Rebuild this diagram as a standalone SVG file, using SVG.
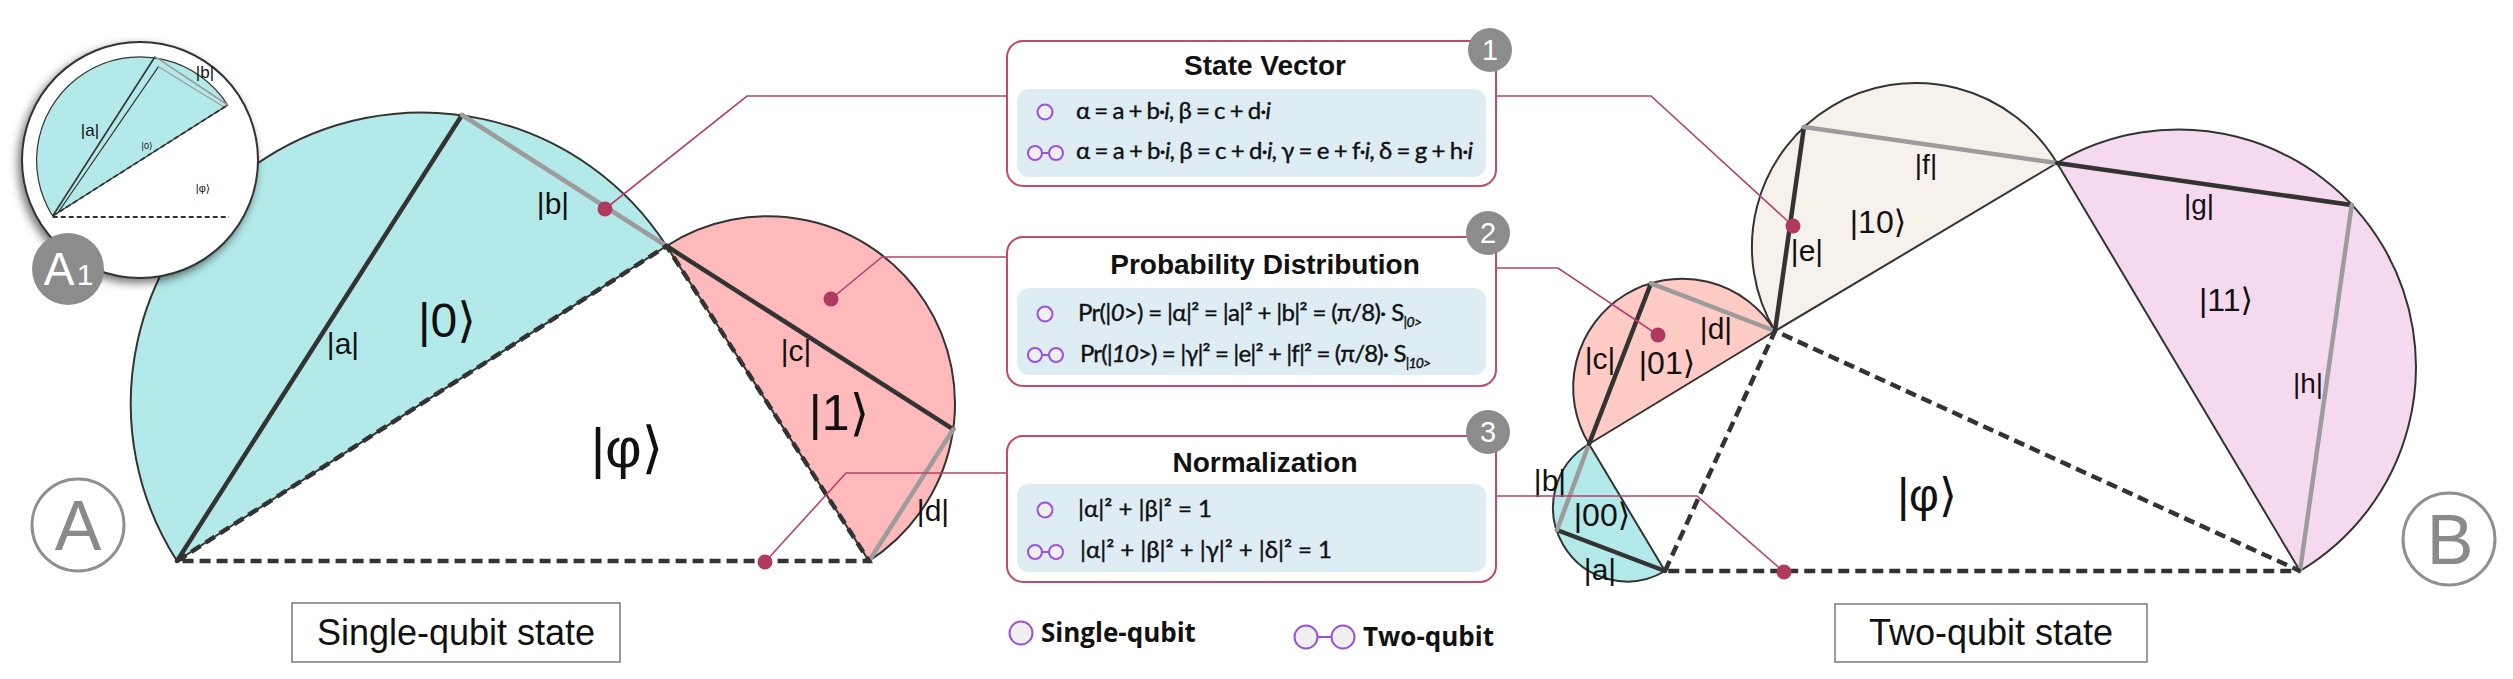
<svg xmlns="http://www.w3.org/2000/svg" width="2513" height="679" viewBox="0 0 2513 679">
<defs>
<style>
.lbl{font-family:"Liberation Sans",Arial,"DejaVu Sans",sans-serif;fill:#111;text-anchor:middle}
.chordK{stroke:#333;stroke-width:4.5;fill:none;stroke-linecap:round}
.chordG{stroke:#9c9c9c;stroke-width:4.5;fill:none;stroke-linecap:round}
.semi{stroke:#333;stroke-width:2;stroke-linejoin:round}
.dash{stroke:#333;stroke-width:4.5;fill:none;stroke-dasharray:11 6}
.conn{stroke:#b8416b;stroke-width:1.6;fill:none}
.dot{fill:#b03a5e}
.box{fill:#fff;stroke:#c4496e;stroke-width:2}
.inner{fill:#deedf4}
.title{font-family:"Liberation Sans",Arial,sans-serif;font-weight:bold;font-size:28px;fill:#111;text-anchor:middle}
.f{font-family:Lato,"Open Sans","Noto Sans",sans-serif;font-size:24px;fill:#111;stroke:#111;stroke-width:0.4}
.q{fill:#efefef;stroke:#9b51e0;stroke-width:2}
.badge{fill:#8c8c8c}
.bnum{font-family:"Liberation Sans",Arial,sans-serif;font-size:29px;fill:#fff;text-anchor:middle}
.cap{font-family:"Liberation Sans",Arial,sans-serif;font-size:36px;fill:#111;text-anchor:middle}
.capbox{fill:#fff;stroke:#7a7a7a;stroke-width:1.5}
.leg{font-family:"Open Sans","Noto Sans",sans-serif;font-weight:bold;font-size:26px;fill:#111}
.panel{fill:none;stroke:#8f8f8f;stroke-width:3}
.panelT{font-family:"Liberation Sans",Arial,sans-serif;font-size:70px;fill:#8a8a8a;text-anchor:middle}
</style>
<filter id="sh" x="-20%" y="-20%" width="140%" height="140%">
<feDropShadow dx="-3" dy="4" stdDeviation="5" flood-color="#000" flood-opacity="0.55"/>
</filter>
</defs>
<rect width="2513" height="679" fill="#fff"/>

<!-- Single-qubit geometry -->
<g id="single-qubit">
<path class="semi" fill="#b3e9e9" d="M177 561 A290.8 290.8 0 0 1 666.5 246 Z"/>
<path class="semi" fill="#feb9ba" d="M666.5 246 A187.2 187.2 0 0 1 869 561 Z"/>
<line class="chordK" x1="177" y1="561" x2="462" y2="115"/>
<line class="chordG" x1="462" y1="115" x2="666.5" y2="246"/>
<line class="chordK" x1="666.5" y1="246" x2="953.3" y2="429.3"/>
<line class="chordG" x1="953.3" y1="429.3" x2="869" y2="561"/>
<path class="dash" d="M177 561 L666.5 246 L869 561 Z"/>
<text class="lbl" x="343" y="353.5" font-size="30">|a|</text>
<text class="lbl" x="553" y="213.5" font-size="30">|b|</text>
<text class="lbl" x="447" y="337" font-size="48">|0⟩</text>
<text class="lbl" x="796" y="360.5" font-size="30">|c|</text>
<text class="lbl" x="839" y="429.5" font-size="50">|1⟩</text>
<text class="lbl" x="933" y="520.5" font-size="30">|d|</text>
<text class="lbl" x="627" y="467" font-size="56">|φ⟩</text>
</g>

<!-- Two-qubit geometry -->
<g id="two-qubit">
<path class="semi" fill="#b3e9e9" d="M1665 571 A74 74 0 0 1 1589 444 Z"/>
<path class="semi" fill="#ffcbc4" d="M1589 444 A108.8 108.8 0 0 1 1775 331 Z"/>
<path class="semi" fill="#f6f1eb" d="M1775 331 A164.1 164.1 0 0 1 2057 163 Z"/>
<path class="semi" fill="#f5daef" d="M2057 163 A237.4 237.4 0 0 1 2300 571 Z"/>
<line class="chordK" x1="1557" y1="530" x2="1665" y2="571"/>
<line class="chordG" x1="1557" y1="530" x2="1589" y2="444"/>
<line class="chordK" x1="1589" y1="444" x2="1651" y2="283.3"/>
<line class="chordG" x1="1651" y1="283.3" x2="1775" y2="331"/>
<line class="chordK" x1="1775" y1="331" x2="1804" y2="127"/>
<line class="chordG" x1="1804" y1="127" x2="2057" y2="163"/>
<line class="chordK" x1="2057" y1="163" x2="2351.7" y2="205"/>
<line class="chordG" x1="2351.7" y1="205" x2="2300" y2="571"/>
<path class="dash" d="M1665 571 L1775 331 L2300 571 Z"/>
<text class="lbl" x="1602" y="526" font-size="32">|00⟩</text>
<text class="lbl" x="1600" y="580" font-size="30">|a|</text>
<text class="lbl" x="1550" y="491" font-size="30">|b|</text>
<text class="lbl" x="1600" y="368.5" font-size="30">|c|</text>
<text class="lbl" x="1667" y="374" font-size="32">|01⟩</text>
<text class="lbl" x="1716" y="339" font-size="30">|d|</text>
<text class="lbl" x="1807" y="261" font-size="30">|e|</text>
<text class="lbl" x="1878" y="233" font-size="32">|10⟩</text>
<text class="lbl" x="1926" y="174" font-size="28">|f|</text>
<text class="lbl" x="2199" y="213.5" font-size="28">|g|</text>
<text class="lbl" x="2226" y="311" font-size="32">|11⟩</text>
<text class="lbl" x="2308" y="393" font-size="28">|h|</text>
<text class="lbl" x="1927" y="511" font-size="46">|φ⟩</text>
</g>

<!-- Inset A1 -->
<g id="inset-A1">
<circle cx="140" cy="160" r="118" fill="#fff" stroke="#333" stroke-width="2" filter="url(#sh)"/>
<path fill="#b3e9e9" stroke="#333" stroke-width="1.2" d="M52.7 216 A103.6 103.6 0 0 1 227.7 105 Z"/>
<line x1="52.7" y1="216" x2="155" y2="56.7" stroke="#333" stroke-width="1.6"/>
<line x1="155" y1="56.7" x2="227.7" y2="105" stroke="#9c9c9c" stroke-width="1.6"/>
<line x1="57" y1="214" x2="158.5" y2="66.7" stroke="#333" stroke-width="1.2"/>
<line x1="158.5" y1="66.7" x2="224" y2="107" stroke="#9c9c9c" stroke-width="1.2"/>
<line x1="52.7" y1="216" x2="227.7" y2="105" stroke="#333" stroke-width="1.8" stroke-dasharray="5 3"/>
<line x1="52.7" y1="217" x2="229" y2="217" stroke="#333" stroke-width="1.8" stroke-dasharray="5 3"/>
<text class="lbl" x="90" y="136" font-size="17">|a|</text>
<text class="lbl" x="205" y="78" font-size="17">|b|</text>
<text class="lbl" x="147" y="149" font-size="9">|0⟩</text>
<text class="lbl" x="203" y="192" font-size="11">|φ⟩</text>
</g>
<g id="badge-A1">
<circle cx="68" cy="269" r="36" fill="#8c8c8c"/>
<text x="59" y="285" font-family="Liberation Sans,Arial,sans-serif" font-size="46" fill="#fff" text-anchor="middle">A</text>
<text x="85" y="285" font-family="Liberation Sans,Arial,sans-serif" font-size="30" fill="#fff" text-anchor="middle">1</text>
</g>

<!-- Panel markers -->
<g id="panel-A">
<circle class="panel" cx="78" cy="525" r="46"/>
<text class="panelT" x="78" y="550">A</text>
</g>
<g id="panel-B">
<circle class="panel" cx="2449" cy="539" r="46"/>
<text class="panelT" x="2450" y="564">B</text>
</g>

<!-- Captions -->
<g id="caption-single">
<rect class="capbox" x="292" y="603" width="328" height="59"/>
<text class="cap" x="456" y="645">Single-qubit state</text>
</g>
<g id="caption-two">
<rect class="capbox" x="1835" y="604" width="312" height="58"/>
<text class="cap" x="1991" y="645">Two-qubit state</text>
</g>

<!-- Connectors -->
<g id="connectors">
<path class="conn" d="M1007 96 H747 L605 209"/>
<path class="conn" d="M1496 96 H1651 L1793 226"/>
<path class="conn" d="M1007 257 H882 L831 299"/>
<path class="conn" d="M1496 268 H1558 L1658 335"/>
<path class="conn" d="M1007 473 H846 L765 562"/>
<path class="conn" d="M1496 496 H1697 L1784 572"/>
<circle class="dot" cx="605" cy="209" r="7.5"/>
<circle class="dot" cx="1793" cy="226" r="7.5"/>
<circle class="dot" cx="831" cy="299" r="7.5"/>
<circle class="dot" cx="1658" cy="335" r="7.5"/>
<circle class="dot" cx="765" cy="562" r="7.5"/>
<circle class="dot" cx="1784" cy="572" r="7.5"/>
</g>

<!-- Box 1 -->
<g id="box-state-vector">
<rect class="box" x="1007" y="41" width="489" height="145" rx="16"/>
<rect class="inner" x="1017" y="89" width="469" height="88" rx="12"/>
<text class="title" x="1265" y="75">State Vector</text>
<circle class="q" cx="1045" cy="112" r="7.5"/>
<text class="f" x="1076" y="119" textLength="195" lengthAdjust="spacing">α = a + b·<tspan font-style="italic">i</tspan>, β = c + d·<tspan font-style="italic">i</tspan></text>
<circle class="q" cx="1035" cy="153" r="7"/><line x1="1042" y1="153" x2="1049" y2="153" stroke="#9b51e0" stroke-width="2"/><circle class="q" cx="1056" cy="153" r="7"/>
<text class="f" x="1076" y="159" textLength="397" lengthAdjust="spacing">α = a + b·<tspan font-style="italic">i</tspan>, β = c + d·<tspan font-style="italic">i</tspan>, γ = e + f·<tspan font-style="italic">i</tspan>, δ = g + h·<tspan font-style="italic">i</tspan></text>
<circle class="badge" cx="1490" cy="50" r="22"/>
<text class="bnum" x="1490" y="60">1</text>
</g>

<!-- Box 2 -->
<g id="box-probability">
<rect class="box" x="1007" y="237" width="489" height="149" rx="16"/>
<rect class="inner" x="1017" y="288" width="469" height="87" rx="12"/>
<text class="title" x="1265" y="274">Probability Distribution</text>
<circle class="q" cx="1045" cy="314" r="7.5"/>
<text class="f" x="1078" y="321" textLength="344" lengthAdjust="spacing">Pr(|<tspan font-style="italic">0</tspan>&gt;) = |α|² = |a|² + |b|² = (π/8)· S<tspan font-size="14" font-style="italic" dy="6">|0&gt;</tspan></text>
<circle class="q" cx="1035" cy="355" r="7"/><line x1="1042" y1="355" x2="1049" y2="355" stroke="#9b51e0" stroke-width="2"/><circle class="q" cx="1056" cy="355" r="7"/>
<text class="f" x="1080" y="362" textLength="351" lengthAdjust="spacing">Pr(|<tspan font-style="italic">10</tspan>&gt;) = |γ|² = |e|² + |f|² = (π/8)· S<tspan font-size="14" font-style="italic" dy="6">|10&gt;</tspan></text>
<circle class="badge" cx="1488" cy="233" r="22"/>
<text class="bnum" x="1488" y="243">2</text>
</g>

<!-- Box 3 -->
<g id="box-normalization">
<rect class="box" x="1007" y="436" width="489" height="146" rx="16"/>
<rect class="inner" x="1017" y="484" width="469" height="88" rx="12"/>
<text class="title" x="1265" y="472">Normalization</text>
<circle class="q" cx="1045" cy="510" r="7.5"/>
<text class="f" x="1078" y="517" textLength="134" lengthAdjust="spacing">|α|² + |β|² = 1</text>
<circle class="q" cx="1035" cy="552" r="7"/><line x1="1042" y1="552" x2="1049" y2="552" stroke="#9b51e0" stroke-width="2"/><circle class="q" cx="1056" cy="552" r="7"/>
<text class="f" x="1080" y="558" textLength="252" lengthAdjust="spacing">|α|² + |β|² + |γ|² + |δ|² = 1</text>
<circle class="badge" cx="1488" cy="432" r="22"/>
<text class="bnum" x="1488" y="442">3</text>
</g>

<!-- Legend -->
<g id="legend">
<circle class="q" cx="1021" cy="633" r="11.5"/>
<text class="leg" x="1041" y="642">Single-qubit</text>
<circle class="q" cx="1306" cy="637" r="11.5"/><line x1="1317.5" y1="637" x2="1331.5" y2="637" stroke="#9b51e0" stroke-width="2"/><circle class="q" cx="1343" cy="637" r="11.5"/>
<text class="leg" x="1363" y="646">Two-qubit</text>
</g>
</svg>
